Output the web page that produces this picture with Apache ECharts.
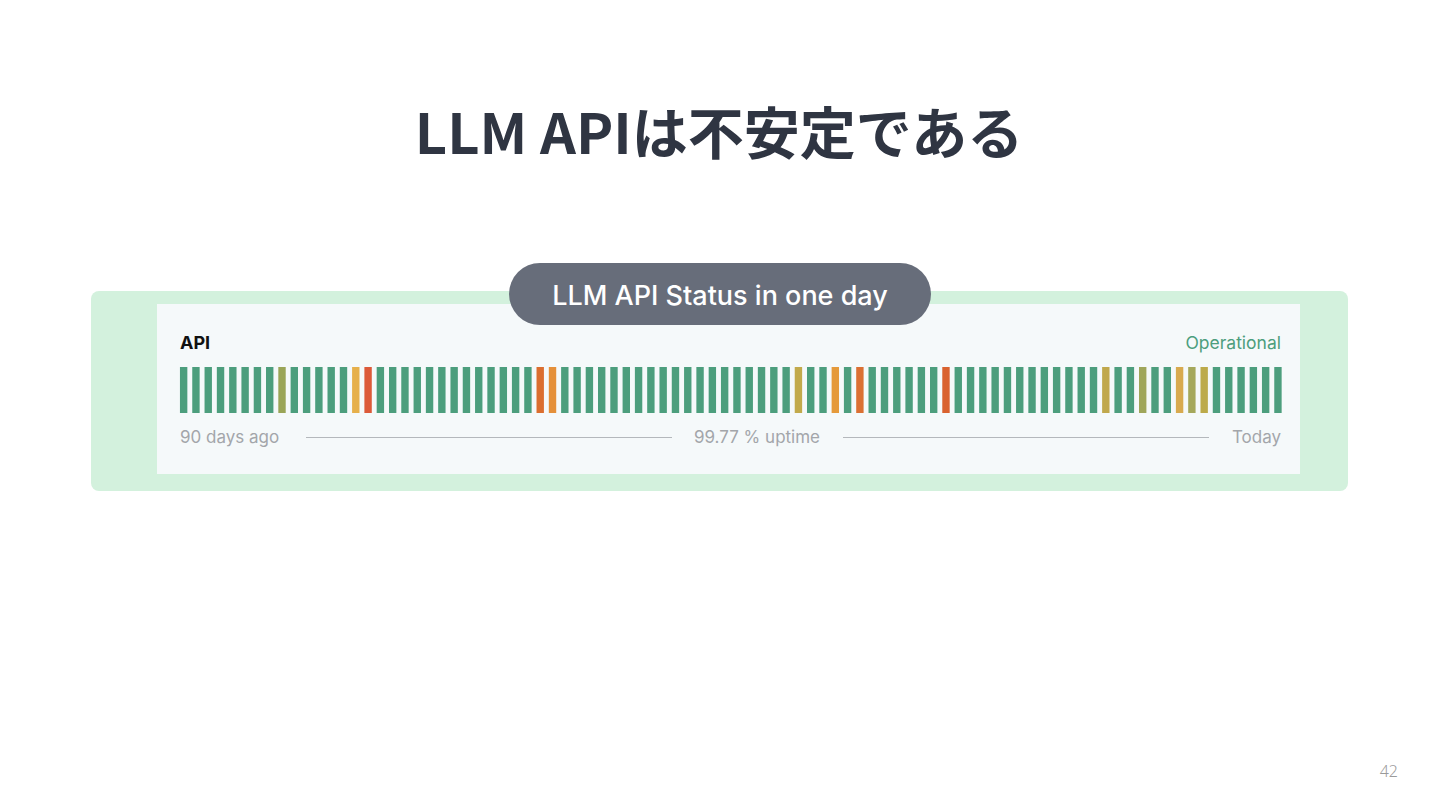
<!DOCTYPE html>
<html>
<head>
<meta charset="utf-8">
<script src="https://cdn.jsdelivr.net/npm/echarts@6/dist/echarts.min.js"></script>
<style>
html,body{margin:0;padding:0;background:#ffffff;}
#chart{width:1440px;height:810px;}
</style>
</head>
<body>
<div id="chart"></div>
<script>
// ---- data ----
const titleText = 'LLM API\u306f\u4e0d\u5b89\u5b9a\u3067\u3042\u308b';
const badgeText = 'LLM API Status in one day';
const componentName = 'API';
const currentStatus = 'Operational';
const leftLabel = '90 days ago';
const centerLabel = '99.77 % uptime';
const rightLabel = 'Today';
const pageNumber = '42';
// status code per day (oldest -> today), 90 days
const dayStatus = [
  'ok','ok','ok','ok','ok','ok','ok','ok','a','ok',
  'ok','ok','ok','ok','y','r','ok','ok','ok','ok',
  'ok','ok','ok','ok','ok','ok','ok','ok','ok','d',
  'o','ok','ok','ok','ok','ok','ok','ok','ok','ok',
  'ok','ok','ok','ok','ok','ok','ok','ok','ok','ok',
  'b','ok','ok','o2','ok','d2','ok','ok','ok','ok',
  'ok','ok','r2','ok','ok','ok','ok','ok','ok','ok',
  'ok','ok','ok','ok','ok','b2','ok','ok','a2','ok',
  'ok','y2','a3','b3','ok','ok','ok','ok','ok','ok'
];
const dayLabels = dayStatus.map((s, i) => String(90 - i));
const barValue = dayStatus.map(() => 1);
</script>
<script>
const statusColor = {
  ok: '#4c9e7d', a: '#9aa557', y: '#e6b04b', r: '#dc5a39', d: '#db6e2f', o: '#e5903a',
  b: '#c2aa4b', o2: '#e59a3b', d2: '#db7033', r2: '#d9622f', b2: '#c0a84c',
  a2: '#9fa65a', y2: '#d8aa4f', a3: '#a5a85b', b3: '#bcaa4a'
};
const chart = echarts.init(document.getElementById('chart'), null, {renderer: 'svg'});
const latin = 'Inter, "Noto Sans", sans-serif';
const option = {
  backgroundColor: '#ffffff',
  animation: false,
  grid: {left: 177.5, width: 1106.6, top: 367, height: 46, containLabel: false},
  xAxis: {
    type: 'category', data: dayLabels,
    axisLine: {show: false}, axisTick: {show: false}, axisLabel: {show: false}, splitLine: {show: false}
  },
  yAxis: {type: 'value', min: 0, max: 1, show: false},
  graphic: [
    {type: 'rect', z: -10, shape: {x: 91, y: 291, width: 1257, height: 200, r: 8}, style: {fill: '#d3f1dd'}},
    {type: 'rect', z: -9, shape: {x: 157, y: 304, width: 1143, height: 170}, style: {fill: '#f5f9fa'}},
    {type: 'rect', z: 5, shape: {x: 509, y: 263, width: 422, height: 62, r: 31}, style: {fill: '#676d7a'}},
    {type: 'text', z: 6, x: 720, y: 295, style: {text: badgeText, fill: '#ffffff', font: '500 27px ' + latin, textAlign: 'center', textVerticalAlign: 'middle'}},
    {type: 'text', x: 719, y: 129, style: {text: titleText, fill: '#2f3542', font: 'bold 56px "Noto Sans CJK JP", sans-serif', textAlign: 'center', textVerticalAlign: 'middle'}},
    {type: 'text', x: 180, y: 342, style: {text: componentName, fill: '#111111', font: 'bold 18px ' + latin, textAlign: 'left', textVerticalAlign: 'middle'}},
    {type: 'text', x: 1281, y: 342, style: {text: currentStatus, fill: '#4c9e7d', font: '17.5px ' + latin, textAlign: 'right', textVerticalAlign: 'middle'}},
    {type: 'text', x: 180, y: 437, style: {text: leftLabel, fill: '#a3a6aa', font: '17px ' + latin, textAlign: 'left', textVerticalAlign: 'middle'}},
    {type: 'text', x: 757, y: 437, style: {text: centerLabel, fill: '#a3a6aa', font: '17px ' + latin, textAlign: 'center', textVerticalAlign: 'middle'}},
    {type: 'text', x: 1281, y: 437, style: {text: rightLabel, fill: '#a3a6aa', font: '17px ' + latin, textAlign: 'right', textVerticalAlign: 'middle'}},
    {type: 'line', shape: {x1: 306, y1: 437.5, x2: 672, y2: 437.5}, style: {stroke: '#b4b8bc', lineWidth: 1}},
    {type: 'line', shape: {x1: 843, y1: 437.5, x2: 1209, y2: 437.5}, style: {stroke: '#b4b8bc', lineWidth: 1}},
    {type: 'text', x: 1398, y: 771, style: {text: pageNumber, fill: '#9a9a9a', font: '300 16px "Noto Sans", sans-serif', textAlign: 'right', textVerticalAlign: 'middle'}}
  ],
  series: [{
    type: 'bar',
    barWidth: 7.4,
    data: barValue.map((v, i) => ({value: v, itemStyle: {color: statusColor[dayStatus[i]]}})),
    silent: true
  }]
};
chart.setOption(option);
</script>
</body>
</html>
